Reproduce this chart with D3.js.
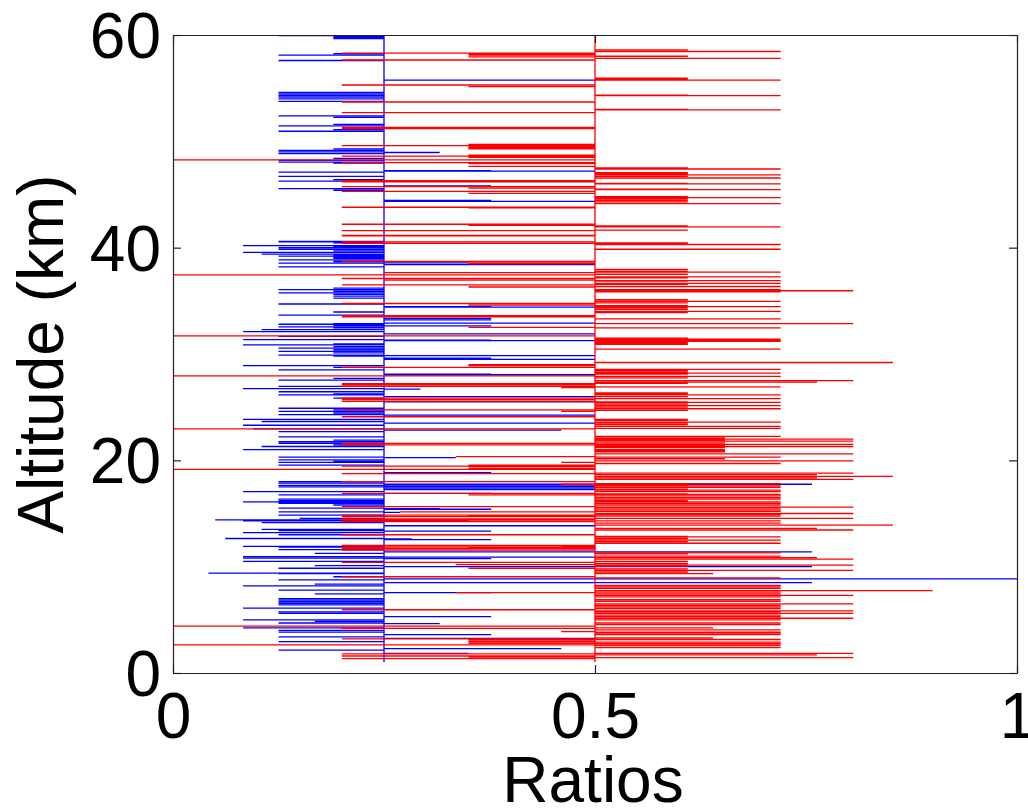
<!DOCTYPE html>
<html>
<head>
<meta charset="utf-8">
<script src="https://cdn.jsdelivr.net/npm/d3@7"></script>
<style>
  html, body { margin: 0; padding: 0; background: #fff; }
  svg { display: block; }
</style>
</head>
<body>
<svg id="chart" width="1028" height="811"></svg>
<script>
// ---------------- DATA ----------------
const xTicks = [0, 0.5, 1];
const xTickLabels = ["0", "0.5", "1"];
const yTicks = [0, 20, 40, 60];
const yTickLabels = ["0", "20", "40", "60"];
const xLabel = "Ratios";
const yLabel = "Altitude (km)";

const blueBase = 0.25;
const redBase = 0.5;

// [altitude (km), ratio] for the blue series (excursions from the 0.25 baseline)
const blueSeries = [
  [60,0.25],[59.95,0.125],[59.85,0.19],[59.75,0.19],[59.65,0.19],
  [58.25,0.19],[58.1,0.125],[57.6,0.125],[55.75,0.5],
  [54.6,0.125],[54.45,0.125],[54.3,0.125],[54.15,0.125],[54.0,0.125],[53.75,0.125],
  [52.4,0.125],[52.25,0.19],[51.6,0.19],[51.45,0.125],[51.1,0.19],[50.95,0.125],
  [49.3,0.19],[49.15,0.125],[49.0,0.125],[48.95,0.316],[48.85,0.125],
  [48.4,0.19],[48.2,0.125],[48.05,0.125],[47.95,0.19],
  [47.25,0.377],[47.2,0.5],[47.1,0.125],[46.7,0.125],[46.4,0.19],[46.25,0.125],
  [45.8,0.377],[45.55,0.125],[45.4,0.19],[44.45,0.377],[44.35,0.5],
  [40.6,0.125],[40.55,0.125],[40.45,0.19],[40.2,0.083],[40.1,0.19],[40.0,0.125],[39.85,0.125],
  [39.7,0.19],[39.55,0.083],[39.4,0.105],[39.3,0.19],[39.2,0.125],[39.1,0.19],[39.0,0.19],
  [38.85,0.125],[38.7,0.19],[38.65,0.35],[38.55,0.125],[38.45,0.377],[38.4,0.5],[38.2,0.125],
  [36.2,0.19],[36.05,0.125],[35.9,0.19],[35.75,0.125],[35.6,0.19],[35.45,0.19],[35.25,0.19],
  [34.7,0.125],[34.45,0.377],[34.4,0.5],[33.95,0.19],[33.65,0.125],[33.35,0.377],[33.2,0.377],
  [32.9,0.5],[32.85,0.19],[32.8,0.125],[32.7,0.19],[32.65,0.377],[32.55,0.125],[32.45,0.19],
  [32.3,0.105],[32.1,0.083],[31.9,0.5],[31.65,0.125],[31.35,0.083],[31.3,0.377],[31.25,0.5],
  [30.95,0.19],[30.85,0.083],[30.7,0.19],[30.55,0.125],[30.4,0.19],[30.25,0.125],[30.1,0.19],
  [29.9,0.125],[29.85,0.5],[29.8,0.19],[29.6,0.377],[29.5,0.5],
  [28.9,0.083],[28.75,0.19],[28.5,0.125],[28.1,0.377],[28.05,0.5],[27.7,0.19],[27.55,0.125],
  [26.95,0.125],[26.75,0.083],[26.7,0.293],[26.45,0.125],[26.25,0.19],[26.15,0.125],[26.0,0.5],
  [25.85,0.19],[25.5,0.5],[24.9,0.125],[24.75,0.19],[24.6,0.125],[24.45,0.19],[24.3,0.125],
  [24.25,0.5],[23.85,0.083],[23.65,0.105],[23.5,0.5],[23.3,0.083],[22.95,0.095],[22.85,0.46],
  [22.7,0.125],[22.2,0.125],[21.9,0.19],[21.75,0.125],[21.6,0.125],[21.45,0.19],[21.3,0.105],
  [21.0,0.083],[20.3,0.125],[20.25,0.335],[20.05,0.125],[19.9,0.19],[19.8,0.125],[19.55,0.125],
  [18.85,0.377],[18.0,0.125],[17.85,0.125],[17.75,0.757],[17.7,0.5],[17.65,0.125],[17.55,0.5],
  [17.5,0.125],[17.4,0.5],[17.25,0.5],[17.05,0.083],[16.9,0.377],[16.75,0.125],
  [16.35,0.125],[16.2,0.125],[16.1,0.083],[16.05,0.125],[15.95,0.125],[15.8,0.19],
  [15.5,0.125],[15.45,0.316],[15.4,0.377],[15.15,0.125],[15.1,0.269],[14.85,0.125],
  [14.55,0.15],[14.4,0.05],[14.35,0.35],[14.3,0.083],[14.15,0.105],[13.85,0.5],
  [13.5,0.105],[13.4,0.125],[13.35,0.377],[13.2,0.083],[13.0,0.125],[12.65,0.062],
  [12.6,0.283],[12.55,0.377],[11.9,0.083],[11.85,0.125],[11.6,0.125],[11.4,0.757],
  [11.25,0.168],[10.95,0.083],[10.9,0.5],[10.8,0.083],[10.75,0.377],[10.5,0.083],
  [10.1,0.168],[10.0,0.757],[9.85,0.125],[9.4,0.042],[9.35,0.125],[9.05,0.19],
  [8.85,1.0],[8.75,0.125],[8.5,0.757],[8.35,0.168],[8.2,0.083],[7.8,0.125],[7.55,0.377],
  [7.45,0.168],[7.0,0.125],[6.85,0.125],[6.7,0.125],[6.55,0.125],[6.4,0.125],[6.1,0.083],
  [5.75,0.125],[5.6,0.125],[5.3,0.377],[5.0,0.083],[4.85,0.168],[4.7,0.125],[4.65,0.316],
  [4.25,0.083],[4.0,0.125],[3.85,0.125],[3.6,0.377],[3.4,0.125],[3.25,0.5],[2.95,0.125],
  [2.3,0.46],[2.15,0.125],[1.85,0.35],[1.0,0.25]
];

// [altitude (km), ratio] for the red series (excursions from the 0.5 baseline)
const redSeries = [
  [60,0.5],[58.6,0.61],[58.45,0.72],[58.3,0.2],[58.2,0.35],[58.1,0.35],[58.0,0.61],[57.95,0.35],
  [57.8,0.72],[57.65,0.2],[55.95,0.61],[55.85,0.61],[55.75,0.72],[55.3,0.2],[55.15,0.35],
  [54.35,0.61],[54.3,0.72],[53.7,0.2],[53.0,0.61],[52.95,0.72],[52.7,0.2],
  [51.3,0.2],[51.2,0.2],[49.7,0.35],[49.6,0.2],[49.5,0.35],[49.4,0.35],[49.3,0.35],
  [48.7,0.35],[48.6,0.2],[48.5,0.35],[48.25,0],[48.0,0.2],[47.9,0.35],[47.65,0.35],
  [47.5,0.61],[47.4,0.72],[47.05,0.61],[46.95,0.61],[46.85,0.72],[46.7,0.61],[46.55,0.72],
  [46.3,0.2],[46.2,0.2],[46.05,0.61],[46.0,0.72],[45.75,0.2],[45.6,0.35],[45.5,0.61],
  [45.45,0.72],[45.3,0.2],[45.1,0.35],[44.8,0.61],[44.7,0.72],[44.6,0.61],[44.45,0.61],
  [44.3,0.61],[44.15,0.72],[43.8,0.2],[43.75,0.35],[42.2,0.2],[42.1,0.35],[42.05,0.61],
  [41.95,0.72],[41.65,0.61],[41.6,0.2],[41.15,0.2],[41.1,0.2],[40.55,0.2],[40.45,0.61],
  [40.4,0.2],[40.35,0.61],[40.3,0.72],[39.85,0.72],
  [38.7,0.2],[38.55,0.35],[38.5,0.35],[37.95,0.61],[37.8,0.61],[37.7,0.72],[37.65,0.25],
  [37.5,0.61],[37.45,0],[37.25,0.72],[37.15,0.61],[37.1,0.2],[36.95,0.25],[36.9,0.72],
  [36.85,0.61],[36.65,0.72],[36.55,0.61],[36.5,0.2],[36.35,0.72],[36.3,0.35],
  [36.05,0.72],[35.95,0.806],[35.85,0.72],[35.1,0.61],[34.95,0.72],[34.8,0.61],
  [34.75,0.2],[34.6,0.35],[34.55,0.61],[34.45,0.72],[34.35,0.61],[34.2,0.61],[34.0,0.72],
  [33.9,0.61],[33.6,0.2],[33.5,0.2],[33.3,0.72],[32.85,0.806],[32.5,0.35],[32.45,0.72],
  [31.7,0],[31.5,0.61],[31.4,0.72],[31.3,0.72],[31.2,0.72],[31.1,0.61],[31.0,0.61],
  [30.9,0.61],[30.45,0.72],[29.2,0.853],[29.0,0.35],[28.9,0.35],[28.75,0.2],
  [28.55,0.72],[28.45,0.61],[28.3,0.61],[28.2,0.72],[28.1,0.61],[27.95,0],[27.9,0.72],
  [27.75,0.61],[27.5,0.806],[27.35,0.763],[27.25,0.61],[27.2,0.2],[27.1,0.2],[26.95,0.2],
  [26.9,0.72],[26.85,0.46],[26.35,0.61],[26.25,0.61],[26.15,0.72],[26.0,0.61],[25.85,0.2],
  [25.8,0.72],[25.7,0.2],[25.55,0.2],[25.5,0.61],[25.45,0.72],[25.3,0.61],[25.15,0.72],
  [25.0,0.61],[24.85,0.72],[24.75,0.2],[24.7,0.61],[24.6,0.46],[24.1,0.2],
  [23.85,0.61],[23.75,0.61],[23.6,0.72],[23.5,0.61],[23.35,0.61],[23.2,0.72],[23.0,0.72],
  [22.95,0],[22.25,0.72],[22.1,0.654],[22.0,0.806],[21.9,0.654],[21.8,0.806],[21.65,0.654],
  [21.6,0.2],[21.5,0.806],[21.45,0.2],[21.4,0.654],[21.3,0.806],[21.2,0.654],[21.0,0.654],
  [20.9,0.654],[20.8,0.654],[20.6,0.806],[20.35,0.335],[20.3,0.72],[20.15,0.654],
  [19.95,0.806],[19.8,0.46],[19.7,0.72],[19.55,0.35],[19.45,0.2],[19.4,0.35],[19.25,0.35],
  [19.15,0],[18.8,0.806],[18.75,0.2],[18.65,0.763],[18.5,0.853],[18.35,0.763],[18.2,0.806],
  [18.0,0.2],[17.8,0.72],[17.75,0.46],[17.7,0.61],[17.6,0.72],[17.45,0.72],[17.3,0.61],
  [17.2,0.72],[17.05,0.72],[16.9,0.2],[16.85,0.61],[16.8,0.72],[16.75,0.35],[16.65,0.72],
  [16.5,0.72],[16.35,0.72],[16.2,0.61],[16.1,0.72],[15.95,0.72],[15.8,0.72],[15.65,0.2],
  [15.6,0.806],[15.5,0.72],[15.35,0.72],[15.2,0.72],[15.15,0.269],[15.0,0.806],[14.9,0.72],
  [14.85,0.2],[14.8,0.35],[14.75,0.72],[14.7,0.2],[14.55,0.806],[14.5,0.2],[14.4,0.2],
  [14.3,0.72],[14.25,0.2],[14.1,0.72],[13.9,0.853],[13.6,0.763],[13.45,0.806],[13.0,0.2],
  [12.85,0.61],[12.8,0.72],[12.65,0.61],[12.5,0.72],[12.35,0.61],[12.2,0.72],
  [12.0,0.2],[11.9,0.46],[11.85,0.2],[11.75,0.35],[11.7,0.2],[11.55,0.2],[11.3,0.72],
  [11.2,0.61],[11.0,0.72],[10.85,0.763],[10.7,0.806],[10.5,0.61],[10.4,0.2],[10.3,0.61],
  [10.2,0.335],[10.15,0.806],[10.05,0.61],[9.85,0.35],[9.8,0.61],[9.65,0.806],[9.5,0.61],
  [9.35,0.64],[9.05,0.2],[8.95,0.72],[8.25,0.72],[8.1,0.72],[7.95,0.72],[7.75,0.9],
  [7.6,0.72],[7.55,0.335],[7.45,0.72],[7.3,0.806],[7.15,0.72],[6.9,0.72],[6.75,0.72],
  [6.5,0.806],[6.35,0.72],[6.2,0.72],[6.05,0.72],[5.95,0.2],[5.85,0.806],[5.75,0.72],
  [5.6,0.806],[5.45,0.72],[5.3,0.72],[5.15,0.806],[5.0,0.72],[4.7,0.72],[4.55,0.72],
  [4.4,0],[4.25,0.64],[4.2,0.2],[4.05,0.72],[3.9,0.46],[3.85,0.72],[3.75,0.72],[3.6,0.72],
  [3.3,0.64],[3.2,0.2],[3.15,0.72],[3.1,0.35],[2.95,0.35],[2.9,0.72],[2.8,0.35],[2.75,0.72],
  [2.65,0],[2.6,0.72],[2.4,0.72],[1.85,0.806],[1.8,0.2],[1.7,0.763],[1.6,0.2],[1.5,0.35],
  [1.45,0.806],[1.35,0.2],[1.0,0.5]
];

// ---------------- CHART ----------------
const svg = d3.select("#chart");
const mLeft = 173, mRight = 1017, mTop = 35, mBottom = 673;
const FONT = "'Liberation Sans', Arial, Helvetica, sans-serif";

const x = d3.scaleLinear().domain([0, 1]).range([mLeft, mRight]);
const y = d3.scaleLinear().domain([0, 60]).range([mBottom, mTop]);

svg.append("defs").append("clipPath").attr("id", "plotclip")
  .append("rect").attr("x", mLeft).attr("y", mTop)
  .attr("width", mRight - mLeft).attr("height", mBottom - mTop);

function polyline(series, base) {
  const sorted = d3.sort(series, (a, b) => d3.descending(a[0], b[0]));
  const pts = [];
  sorted.forEach(([alt, r]) => {
    pts.push([base, alt]);
    pts.push([r, alt]);
    pts.push([base, alt]);
  });
  return pts;
}

const line = d3.line().x(d => x(d[0])).y(d => y(d[1]));

const plot = svg.append("g").attr("clip-path", "url(#plotclip)");
plot.append("path")
  .attr("d", line(polyline(blueSeries, blueBase)))
  .attr("fill", "none").attr("stroke", "#0000ff").attr("stroke-width", 1.3);
plot.append("path")
  .attr("d", line(polyline(redSeries, redBase)))
  .attr("fill", "none").attr("stroke", "#ff0000").attr("stroke-width", 1.3);

// Axes (MATLAB-style box with inward ticks)
function styleAxis(g) {
  g.attr("font-family", FONT).attr("font-size", 64);
  g.selectAll("path.domain").attr("stroke", "#222").attr("stroke-width", 1.2);
  g.selectAll(".tick line").attr("stroke", "#222").attr("stroke-width", 1.2);
  g.selectAll(".tick text").attr("fill", "#000");
}

svg.append("g").attr("transform", `translate(0,${mBottom})`)
  .call(d3.axisBottom(x).tickValues(xTicks).tickFormat((d, i) => xTickLabels[i])
    .tickSizeInner(-8).tickSizeOuter(0).tickPadding(20))
  .call(styleAxis);

svg.append("g").attr("transform", `translate(0,${mTop})`)
  .call(d3.axisTop(x).tickValues(xTicks).tickFormat("")
    .tickSizeInner(-8).tickSizeOuter(0))
  .call(styleAxis);

svg.append("g").attr("transform", `translate(${mLeft},0)`)
  .call(d3.axisLeft(y).tickValues(yTicks).tickFormat((d, i) => yTickLabels[i])
    .tickSizeInner(-8).tickSizeOuter(0).tickPadding(12))
  .call(styleAxis)
  .selectAll(".tick text").attr("dy", "0.35em");

svg.append("g").attr("transform", `translate(${mRight},0)`)
  .call(d3.axisRight(y).tickValues(yTicks).tickFormat("")
    .tickSizeInner(-8).tickSizeOuter(0))
  .call(styleAxis);

// Axis titles
svg.append("text")
  .attr("x", 593).attr("y", 802)
  .attr("text-anchor", "middle")
  .attr("font-family", FONT).attr("font-size", 64).attr("fill", "#000")
  .text(xLabel);

svg.append("text")
  .attr("transform", `translate(63,${(mTop + mBottom) / 2}) rotate(-90)`)
  .attr("text-anchor", "middle")
  .attr("font-family", FONT).attr("font-size", 64).attr("fill", "#000")
  .text(yLabel);
</script>
</body>
</html>
